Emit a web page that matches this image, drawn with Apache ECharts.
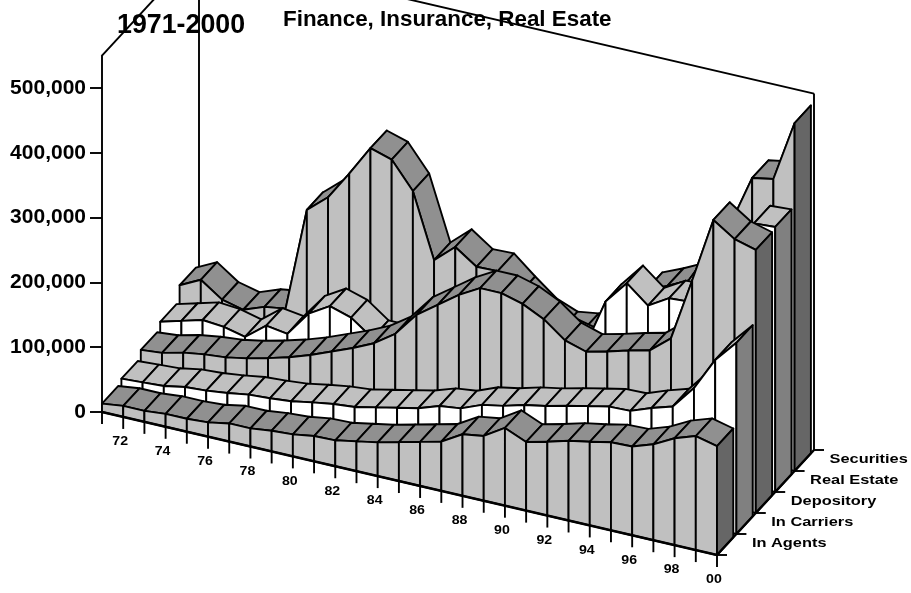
<!DOCTYPE html>
<html>
<head>
<meta charset="utf-8">
<style>
  html, body { margin: 0; padding: 0; background: #fff; }
  #chart { width: 911px; height: 593px; }
</style>
<script src="https://cdn.jsdelivr.net/npm/echarts@6/dist/echarts.min.js"></script>
</head>
<body>
<div id="chart"></div>
<script>
const years = ['71', '72', '73', '74', '75', '76', '77', '78', '79', '80', '81', '82', '83', '84', '85',
  '86', '87', '88', '89', '90', '91', '92', '93', '94', '95', '96', '97', '98', '99', '00'];
const yearLabels = ['72', '74', '76', '78', '80', '82', '84', '86', '88', '90', '92', '94', '96', '98', '00'];
const valueTicks = [0, 100000, 200000, 300000, 400000, 500000];

const inAgents = [13000, 17000, 17000, 20000, 20000, 22000, 28000, 28000, 32000, 34000, 39000, 40000, 46000, 52000, 60000,
  68000, 76000, 95000, 100000, 120000, 106000, 114000, 123000, 129000, 136000, 137000, 148000, 165000, 176000, 168000];
const inCarriers = [19000, 21000, 23000, 29000, 31000, 35000, 40000, 42000, 45000, 51000, 56000, 59000, 66000, 73000, 80000,
  91000, 95000, 108000, 114000, 123000, 129000, 137000, 144000, 151000, 152000, 164000, 174000, 210000, 261000, 295000];
const depository = [31000, 34000, 42000, 47000, 50000, 56000, 64000, 73000, 84000, 97000, 110000, 125000, 147000, 184000, 207000,
  230000, 248000, 248000, 239000, 223000, 198000, 188000, 196000, 205000, 213000, 239000, 336000, 437000, 415000, 406000];
const realEstate = [42000, 51000, 60000, 57000, 49000, 74000, 69000, 108000, 127000, 117000, 93000, 93000, 108000, 131000, 154000,
  170000, 185000, 177000, 170000, 162000, 154000, 233000, 269000, 242000, 261000, 263000, 278000, 355000, 407000, 409000];
const securities = [66000, 82000, 59000, 51000, 63000, 68000, 228000, 255000, 299000, 346000, 336000, 295000, 196000, 224000, 201000,
  202000, 174000, 148000, 135000, 140000, 147000, 170000, 226000, 240000, 256000, 309000, 360000, 437000, 443000, 537000];

const ribbonNames = ['In Agents', 'In Carriers', 'Depository', 'Real Estate', 'Securities'];
const ribbonValues = [inAgents, inCarriers, depository, realEstate, securities];

// oblique projection: each year drops the floor, each ribbon slot moves it back and right
const yearDrop = 143 / 29;
const slotX = 19.4;
const slotY = 21;
const ribbonDepth = 0.84;
const slots = ribbonNames.length;
const axisMax = 550000;
const lineColor = '#000';
const strokeWidth = 1.9;
const font = '"Liberation Sans", Arial, sans-serif';

function project(api, i, v, d) {
  const p = api.coord([i, v]);
  return [p[0] + d * slotX, p[1] + i * yearDrop - d * slotY];
}

function poly(points, fill) {
  return {
    type: 'polygon',
    shape: { points: points },
    style: { fill: fill, stroke: lineColor, lineWidth: strokeWidth, lineJoin: 'round' }
  };
}

function line(a, b, width) {
  return {
    type: 'line',
    shape: { x1: a[0], y1: a[1], x2: b[0], y2: b[1] },
    style: { stroke: lineColor, lineWidth: width || strokeWidth }
  };
}

function label(text, x, y, size, align, stretch) {
  return {
    type: 'text',
    x: x,
    y: y,
    scaleX: stretch || 1,
    style: {
      text: text,
      fill: '#000',
      font: 'bold ' + size + 'px ' + font,
      textAlign: align,
      textVerticalAlign: 'middle'
    }
  };
}

// one year step of one ribbon: top, then front, and the end panel on the last year
function ribbonItem(d) {
  const odd = d % 2 === 0;
  const topFill = odd ? '#909090' : '#c0c0c0';
  const frontFill = odd ? '#c0c0c0' : '#ffffff';
  const sideFill = odd ? '#666666' : '#808080';
  return function (params, api) {
    const i = params.dataIndex;
    const values = ribbonValues[d];
    const last = years.length - 1;
    const children = [];
    const depth = d + ribbonDepth;
    if (i < last) {
      children.push(poly([
        project(api, i, values[i], d),
        project(api, i + 1, values[i + 1], d),
        project(api, i + 1, values[i + 1], depth),
        project(api, i, values[i], depth)
      ], topFill));
      children.push(poly([
        project(api, i, 0, d),
        project(api, i + 1, 0, d),
        project(api, i + 1, values[i + 1], d),
        project(api, i, values[i], d)
      ], frontFill));
    } else {
      children.push(poly([
        project(api, i, 0, d),
        project(api, i, 0, depth),
        project(api, i, values[i], depth),
        project(api, i, values[i], d)
      ], sideFill));
    }
    return { type: 'group', children: children };
  };
}

function wallItem(params, api) {
  const last = years.length - 1;
  return {
    type: 'group',
    children: [
      line(project(api, 0, axisMax, 0), project(api, 0, axisMax, slots)),
      line(project(api, 0, 0, slots), project(api, 0, axisMax, slots)),
      line(project(api, 0, axisMax, slots), project(api, last, axisMax, slots)),
      line(project(api, last, 0, slots), project(api, last, axisMax, slots))
    ]
  };
}

function floorItem(params, api) {
  const last = years.length - 1;
  const children = [
    line(project(api, 0, 0, 0), project(api, last, 0, 0), 2.4),
    line(project(api, last, 0, 0), project(api, last, 0, slots), 2.4)
  ];
  years.forEach(function (y, i) {
    const p = project(api, i, 0, 0);
    children.push(line(p, [p[0], p[1] + 12]));
  });
  yearLabels.forEach(function (text) {
    const p = project(api, years.indexOf(text), 0, 0);
    children.push(label(text, p[0] - 3, p[1] + 25, 12, 'center', 1.18));
  });
  ribbonNames.forEach(function (name, d) {
    const p = project(api, last, 0, d + 1);
    children.push(line(p, [p[0] + 10, p[1]]));
    children.push(label(name, p[0] + 15.5, p[1] + 9.5, 13, 'left', 1.26));
  });
  const corner = project(api, last, 0, 0);
  children.push(line(corner, [corner[0] + 10, corner[1]]));
  return { type: 'group', children: children };
}

const ribbonSeries = [];
for (let d = slots - 1; d >= 0; d--) {
  ribbonSeries.push({
    type: 'custom',
    name: ribbonNames[d],
    renderItem: ribbonItem(d),
    data: ribbonValues[d].map(function (v, i) { return [i, v]; }),
    animation: false,
    silent: true
  });
}

const chart = echarts.init(document.getElementById('chart'));
chart.setOption({
  animation: false,
  backgroundColor: '#fff',
  title: [
    { text: 'Finance, Insurance, Real Esate', left: 283, top: 9, padding: 0, textStyle: { color: '#000', fontFamily: font, fontWeight: 'bold', fontSize: 22.4 } },
    { text: '1971-2000', left: 117, top: 12, padding: 0, textStyle: { color: '#000', fontFamily: font, fontWeight: 'bold', fontSize: 26.8 } }
  ],
  grid: { left: 102, right: 194, top: 55.6, bottom: 181 },
  xAxis: { type: 'category', data: years, boundaryGap: false, show: false },
  yAxis: {
    type: 'value',
    min: 0,
    max: axisMax,
    splitLine: { show: false },
    axisLine: { show: true, lineStyle: { color: lineColor, width: strokeWidth } },
    axisTick: { show: true, length: 12, customValues: valueTicks, lineStyle: { color: lineColor, width: strokeWidth } },
    axisLabel: {
      customValues: valueTicks,
      margin: 16,
      color: '#000',
      fontFamily: font,
      fontWeight: 'bold',
      fontSize: 21,
      formatter: function (v) { return v.toLocaleString('en-US'); }
    }
  },
  series: [
    { type: 'custom', renderItem: wallItem, data: [[0, 0]], silent: true }
  ].concat(ribbonSeries, [
    { type: 'custom', renderItem: floorItem, data: [[0, 0]], silent: true }
  ])
});
</script>
</body>
</html>
